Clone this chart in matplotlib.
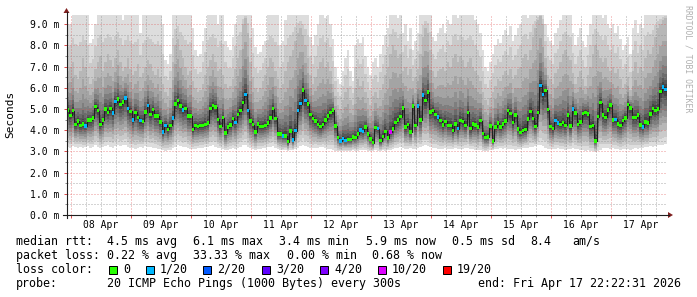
import numpy as np
import matplotlib
matplotlib.use("Agg")
import matplotlib.pyplot as plt
from matplotlib.patches import Rectangle, Polygon
from matplotlib.lines import Line2D
import matplotlib.transforms as mtransforms

W, H = 697, 297
MONO = "DejaVu Sans Mono"

# ---------------- data ----------------
# time in hours relative to 08 Apr 00:00; graph starts Apr 07 22:22:31, 240 hourly steps
start_h = -(1 + 37.5 / 60)

median_ms = [
    4.95, 4.70, 4.92, 4.28, 4.43, 4.22, 4.29, 4.20, 4.47, 4.47,
    4.58, 5.11, 4.92, 4.28, 4.48, 4.99, 4.84, 5.03, 4.80, 5.35,
    5.47, 5.22, 5.33, 5.52, 5.02, 4.89, 4.48, 4.84, 4.61, 4.45,
    4.42, 4.86, 5.17, 4.75, 4.97, 4.67, 4.67, 4.39, 3.92, 4.23,
    4.04, 4.23, 4.58, 5.24, 5.39, 5.14, 4.95, 5.03, 4.67, 4.66,
    4.04, 4.22, 4.17, 4.23, 4.23, 4.28, 4.34, 5.02, 5.17, 5.10,
    4.51, 4.18, 4.59, 3.87, 4.15, 4.25, 4.56, 4.37, 4.75, 4.94,
    5.30, 5.69, 4.94, 4.43, 4.26, 3.92, 4.29, 4.18, 4.18, 4.22,
    4.33, 4.58, 5.02, 4.56, 3.82, 3.81, 3.73, 3.73, 3.46, 3.96,
    3.54, 3.98, 4.92, 5.25, 5.90, 5.39, 5.24, 4.73, 4.55, 4.43,
    4.28, 4.17, 4.28, 4.47, 4.67, 4.84, 4.95, 4.20, 3.65, 3.48,
    3.62, 3.52, 3.56, 3.56, 3.68, 3.65, 3.82, 4.01, 3.95, 4.15,
    3.82, 3.59, 3.41, 4.12, 4.07, 3.51, 3.70, 3.95, 3.63, 3.92,
    4.06, 4.37, 4.47, 4.64, 5.05, 4.14, 4.28, 3.92, 5.14, 4.22,
    5.14, 4.48, 5.65, 5.41, 5.80, 4.86, 4.94, 4.73, 4.62, 4.45,
    4.25, 4.42, 4.22, 4.23, 3.98, 4.29, 4.07, 4.45, 4.42, 4.23,
    4.84, 4.07, 4.29, 4.25, 4.14, 4.45, 3.85, 3.66, 3.68, 4.20,
    3.49, 4.14, 4.33, 4.14, 4.29, 4.43, 4.94, 4.78, 4.37, 4.72,
    4.06, 3.90, 3.98, 4.03, 4.53, 4.89, 4.55, 4.18, 4.83, 6.12,
    5.69, 5.88, 4.97, 4.17, 4.07, 4.45, 4.34, 4.28, 4.37, 4.23,
    4.72, 4.20, 5.00, 4.81, 4.28, 4.39, 4.78, 4.84, 4.76, 4.17,
    4.22, 3.48, 4.64, 5.30, 4.72, 4.61, 4.95, 5.19, 4.48, 4.51,
    4.29, 4.22, 4.45, 4.58, 5.22, 5.05, 4.59, 4.59, 4.72, 4.25,
    4.15, 4.39, 4.34, 4.76, 5.02, 4.94, 4.99, 5.82, 6.04, 5.93,
]

# lost pings (out of 20) for the hours that had loss; all others 0
loss_by_hour = {7: 1, 18: 1, 19: 1, 23: 1, 24: 1, 26: 1, 29: 1, 32: 1, 38: 1, 39: 1,
                42: 1, 46: 1, 67: 1, 71: 1, 72: 1, 86: 1, 90: 1, 91: 1, 92: 1, 93: 1,
                95: 1, 109: 1, 110: 1, 111: 1, 117: 1, 118: 1, 124: 1, 129: 7, 140: 1,
                142: 1, 148: 1, 156: 1, 189: 1, 190: 1, 195: 1, 196: 1, 202: 1, 219: 1,
                230: 1, 238: 1, 239: 1}

# slowest ping per hour (ms, top of smoke)
smoke_top = [
    9.0, 9.0, 9.5, 9.5, 9.5, 9.5, 9.5, 9.5, 9.5, 8.1,
    8.3, 9.0, 9.5, 9.5, 9.5, 9.5, 9.5, 9.5, 9.5, 9.5,
    9.5, 9.5, 9.2, 9.5, 9.5, 9.5, 9.5, 9.5, 9.5, 8.6,
    9.5, 9.5, 9.5, 9.5, 9.5, 9.5, 9.5, 9.5, 9.0, 7.3,
    7.1, 7.6, 9.5, 9.5, 9.5, 9.5, 9.5, 9.5, 9.5, 9.5,
    8.8, 7.8, 7.5, 7.6, 8.2, 8.8, 9.5, 9.5, 9.5, 9.5,
    9.0, 9.5, 9.5, 8.2, 7.9, 7.8, 8.4, 9.0, 9.5, 9.5,
    9.5, 9.5, 9.5, 9.5, 8.8, 7.9, 7.6, 7.7, 8.0, 8.2,
    9.5, 9.5, 9.5, 9.5, 9.5, 8.0, 8.2, 9.2, 9.5, 9.5,
    9.5, 9.5, 9.5, 9.5, 9.5, 9.5, 9.5, 8.4, 8.0, 8.5,
    9.0, 9.5, 9.5, 9.3, 9.5, 9.0, 8.3, 7.0, 6.4, 6.2,
    6.8, 7.4, 7.8, 6.8, 6.3, 8.0, 8.3, 8.1, 8.4, 7.5,
    7.0, 6.6, 7.2, 7.4, 7.0, 7.6, 8.0, 8.5, 8.8, 9.5,
    9.5, 9.5, 9.3, 9.5, 8.6, 9.0, 8.2, 8.8, 7.8, 8.2,
    8.6, 9.5, 9.5, 9.5, 9.5, 9.5, 8.4, 8.2, 8.6, 8.8,
    9.0, 8.6, 9.2, 9.0, 9.5, 9.5, 9.3, 9.5, 9.5, 9.5,
    9.5, 9.5, 9.5, 9.2, 9.0, 8.6, 7.8, 7.0, 6.8, 7.2,
    7.6, 8.0, 8.3, 8.1, 8.5, 8.7, 8.5, 8.9, 8.2, 8.5,
    8.8, 9.0, 9.5, 9.5, 9.3, 9.5, 9.5, 9.5, 9.5, 9.5,
    9.5, 9.0, 8.4, 8.2, 8.0, 8.6, 8.8, 9.2, 9.5, 9.5,
    9.5, 9.5, 8.6, 8.0, 8.4, 8.8, 8.2, 7.9, 8.5, 9.0,
    9.5, 9.5, 9.5, 9.5, 9.3, 9.5, 9.0, 8.8, 9.0, 8.6,
    8.9, 8.3, 7.8, 8.0, 8.4, 7.6, 8.8, 9.2, 8.6, 9.0,
    8.8, 9.5, 9.5, 9.5, 9.5, 9.5, 9.5, 9.5, 9.5, 9.5,
]

# 18th of 20 sorted pings per hour (ms)
smoke_p18 = [
    6.8, 7.0, 7.2, 6.6, 6.4, 6.8, 7.4, 7.0, 6.5, 6.2,
    6.4, 6.9, 7.2, 7.5, 6.8, 7.2, 7.6, 7.3, 7.0, 7.4,
    7.8, 7.2, 6.8, 7.0, 7.4, 6.9, 6.6, 6.8, 7.1, 6.5,
    6.7, 7.0, 7.3, 7.1, 6.8, 6.6, 6.9, 6.5, 6.2, 5.8,
    5.6, 6.0, 7.2, 8.0, 8.3, 7.8, 7.4, 7.0, 6.6, 6.8,
    6.3, 6.0, 5.8, 5.9, 6.2, 6.6, 7.0, 7.3, 7.6, 7.2,
    6.8, 6.9, 6.6, 6.2, 6.0, 6.1, 6.4, 6.9, 7.4, 7.8,
    9.0, 9.3, 8.6, 7.2, 6.5, 6.0, 5.8, 6.0, 6.3, 6.6,
    7.0, 7.4, 7.2, 6.8, 6.4, 6.0, 6.2, 6.8, 7.2, 7.5,
    7.8, 8.2, 8.6, 8.8, 8.5, 8.0, 7.4, 6.6, 6.2, 6.5,
    6.9, 7.2, 7.4, 7.0, 7.2, 6.8, 6.2, 5.6, 5.2, 5.0,
    5.4, 5.8, 6.0, 5.4, 5.2, 6.0, 6.4, 6.1, 6.3, 5.8,
    5.5, 5.2, 5.6, 5.8, 5.5, 5.9, 6.2, 6.6, 7.0, 7.6,
    8.0, 7.8, 7.4, 7.6, 6.8, 7.0, 6.6, 6.9, 6.3, 6.5,
    6.9, 7.6, 8.4, 8.8, 8.6, 7.8, 6.8, 6.5, 6.8, 6.9,
    7.0, 6.8, 7.2, 7.0, 7.4, 7.6, 7.2, 7.5, 7.3, 7.0,
    7.2, 7.4, 7.0, 6.8, 6.6, 6.3, 5.8, 5.4, 5.2, 5.5,
    5.8, 6.1, 6.4, 6.3, 6.6, 6.8, 6.6, 6.9, 6.4, 6.6,
    6.9, 7.0, 7.4, 7.6, 7.3, 7.8, 8.4, 8.8, 9.2, 9.4,
    9.0, 7.4, 6.6, 6.4, 6.2, 6.7, 6.9, 7.2, 7.6, 7.8,
    7.5, 7.3, 6.7, 6.2, 6.5, 6.8, 6.4, 6.1, 6.6, 7.0,
    7.6, 8.0, 7.8, 7.4, 7.2, 7.4, 7.0, 6.8, 7.0, 6.7,
    6.9, 6.4, 6.0, 6.2, 6.5, 5.9, 6.8, 7.2, 6.7, 7.0,
    6.8, 7.4, 7.8, 7.6, 7.9, 8.4, 8.8, 9.0, 9.2, 9.3,
]

# fastest ping per hour (ms, bottom of smoke)
smoke_bottom = [
    3.20, 3.15, 3.25, 3.20, 3.18, 3.22, 3.15, 3.20, 3.25, 3.18,
    3.20, 3.28, 3.22, 3.15, 3.20, 3.25, 3.30, 3.22, 3.18, 3.25,
    3.30, 3.25, 3.28, 3.32, 3.20, 3.15, 3.18, 3.10, 3.15, 3.20,
    3.18, 3.25, 3.22, 3.20, 3.18, 3.15, 3.10, 3.12, 3.05, 3.02,
    3.05, 3.08, 3.15, 3.22, 3.28, 3.25, 3.20, 3.22, 3.15, 3.12,
    3.10, 3.12, 3.15, 3.18, 3.15, 3.20, 3.22, 3.25, 3.28, 3.22,
    3.18, 3.15, 3.12, 3.05, 3.08, 3.10, 3.15, 3.12, 3.18, 3.22,
    3.28, 3.30, 3.20, 3.15, 3.12, 3.05, 3.10, 3.12, 3.15, 3.18,
    3.20, 3.22, 3.25, 3.18, 3.10, 3.08, 3.05, 3.06, 3.00, 3.05,
    3.05, 3.10, 3.18, 3.25, 3.30, 3.25, 3.20, 3.18, 3.15, 3.18,
    3.15, 3.20, 3.22, 3.15, 3.12, 3.10, 3.05, 3.02, 3.00, 3.02,
    3.00, 3.02, 3.00, 3.02, 3.05, 3.02, 3.00, 3.05, 3.08, 3.05,
    3.02, 3.00, 3.00, 3.05, 3.02, 3.00, 3.05, 3.02, 3.05, 3.08,
    3.10, 3.15, 3.18, 3.20, 3.15, 3.12, 3.10, 3.15, 3.10, 3.12,
    3.15, 3.20, 3.25, 3.28, 3.25, 3.20, 3.15, 3.15, 3.12, 3.10,
    3.12, 3.15, 3.12, 3.10, 3.12, 3.15, 3.12, 3.10, 3.12, 3.15,
    3.15, 3.12, 3.10, 3.08, 3.05, 3.08, 3.02, 3.00, 3.02, 3.05,
    3.08, 3.10, 3.12, 3.15, 3.12, 3.15, 3.10, 3.12, 3.10, 3.08,
    3.10, 3.12, 3.15, 3.18, 3.15, 3.20, 3.22, 3.25, 3.28, 3.30,
    3.25, 3.15, 3.10, 3.12, 3.10, 3.12, 3.15, 3.12, 3.10, 3.08,
    3.10, 3.12, 3.15, 3.12, 3.10, 3.08, 3.05, 3.02, 3.05, 3.02,
    3.00, 2.98, 3.02, 3.08, 3.15, 3.18, 3.15, 3.12, 3.15, 3.12,
    3.10, 3.08, 3.10, 3.12, 3.10, 3.08, 3.12, 3.15, 3.12, 3.15,
    3.18, 3.20, 3.22, 3.25, 3.22, 3.25, 3.28, 3.30, 3.32, 3.35,
]

n_hours = len(median_ms)
assert n_hours == 240 and len(smoke_top) == 240 and len(smoke_p18) == 240 and len(smoke_bottom) == 240

y_max = 9.43
y_major = [0, 1, 2, 3, 4, 5, 6, 7, 8, 9]
y_labels = ["0.0 m", "1.0 m", "2.0 m", "3.0 m", "4.0 m", "5.0 m",
            "6.0 m", "7.0 m", "8.0 m", "9.0 m"]
day_labels = ["08 Apr", "09 Apr", "10 Apr", "11 Apr", "12 Apr",
              "13 Apr", "14 Apr", "15 Apr", "16 Apr", "17 Apr"]

loss_keys = [0, 1, 2, 3, 4, 10, 19]
loss_names = ["0", "1/20", "2/20", "3/20", "4/20", "10/20", "19/20"]
loss_colors = ["#26ff00", "#00b8ff", "#0059ff", "#5e00ff", "#7e00ff", "#dd00ff", "#ff0000"]

rtt_stats = ["4.5 ms avg", "6.1 ms max", "3.4 ms min", "5.9 ms now", "0.5 ms sd", "8.4", "am/s"]
loss_stats = ["0.22 % avg", "33.33 % max", "0.00 % min", "0.68 % now"]
probe_text = "20 ICMP Echo Pings (1000 Bytes) every 300s"
end_text = "end: Fri Apr 17 22:22:31 2026"

# ---------------- figure ----------------
fig = plt.figure(figsize=(W / 100, H / 100), dpi=100, facecolor="white")
AX_L, AX_R, AX_T, AX_B = 66.5, 666.5, 15.0, 215.0
ax = fig.add_axes([AX_L / W, 1 - AX_B / H, (AX_R - AX_L) / W, (AX_B - AX_T) / H])
ax.set_facecolor("white")
ax.set_xlim(start_h, start_h + n_hours)
ax.set_ylim(0, y_max)
for s in ax.spines.values():
    s.set_visible(False)

med = np.array(median_ms)
top = np.array(smoke_top)
up = np.array(smoke_p18)
bot = np.array(smoke_bottom)
loss = np.array([loss_by_hour.get(i, 0) for i in range(n_hours)])

x_edges = start_h + np.arange(n_hours + 1)

# 20 sorted pings per hour -> smoke bands (SmokePing style)
lo_frac = [0.0, 0.12, 0.25, 0.38, 0.50, 0.60, 0.70, 0.80, 0.88, 0.95]
hi_frac = [0.03, 0.07, 0.13, 0.21, 0.32, 0.46, 0.68]
pings = [bot + (med - bot) * f for f in lo_frac]
pings += [med + (up - med) * f for f in hi_frac]
pings += [up, up + (top - up) * 0.5, top]

def ext(a):
    return np.append(a, a[-1])

for k in range(10):
    g = (int(190 / 10 * (10 - (k + 1))) + 50) / 255.0
    ax.fill_between(x_edges, ext(pings[k]), ext(pings[19 - k]), step="post",
                    color=(g, g, g), lw=0, antialiased=False, zorder=1)

# grid (over smoke), 1px dotted like rrdtool
grid_col = (0.56, 0.56, 0.56, 0.75)
mgrid_col = (0.87, 0.31, 0.31, 0.60)
dots = (0, (1, 2))
day_x = np.arange(0, start_h + n_hours, 24)
six_x = [h for h in np.arange(0, start_h + n_hours, 6) if h % 24 != 0]
half_y = np.arange(0.5, y_max, 1.0)
for xv in six_x:
    ax.axvline(xv, color=grid_col, ls=dots, lw=0.72, zorder=3)
for xv in day_x:
    ax.axvline(xv, color=mgrid_col, ls=dots, lw=0.72, zorder=3)
for yv in half_y:
    ax.axhline(yv, color=grid_col, ls=dots, lw=0.72, zorder=3)
for yv in y_major[1:]:
    ax.axhline(yv, color=mgrid_col, ls=dots, lw=0.72, zorder=3)

# median line and loss-coloured markers
ax.step(x_edges, ext(med), where="post", color="#202020", lw=0.75, zorder=4)

def loss_color(l):
    for key, c in zip(loss_keys, loss_colors):
        if l <= key:
            return c
    return loss_colors[-1]

sw = 1.7 * y_max / (AX_B - AX_T)
ax.bar(x_edges[:-1], 2 * sw, bottom=med - sw, width=1.0, align="edge",
       color=[loss_color(l) for l in loss], lw=0, zorder=5)

# ticks
ax.set_yticks(y_major)
ax.set_yticklabels(y_labels, family=MONO, fontsize=7)
ax.set_yticks(half_y, minor=True)
ax.set_xticks(day_x)
ax.set_xticklabels([])
ax.set_xticks(six_x, minor=True)
ax.tick_params(axis="y", which="major", length=2.2, width=0.72, color=mgrid_col[:3], pad=2.9)
ax.tick_params(axis="y", which="minor", length=1.5, width=0.72, color=grid_col[:3])
ax.tick_params(axis="x", which="major", length=2.2, width=0.72, color=mgrid_col[:3])
ax.tick_params(axis="x", which="minor", length=1.5, width=0.72, color=grid_col[:3])

blend = mtransforms.blended_transform_factory(ax.transData, ax.transAxes)
for d, lab in enumerate(day_labels):
    ax.text(12 + 24 * d, -9.5 / 200, lab, transform=blend, ha="center", va="center",
            family=MONO, fontsize=7, color="black")

# axes lines + arrows (figure pixel coords)
def P(x, y):
    return x / W, 1 - y / H

axis_col = (0.12, 0.12, 0.12)
arrow_col = (0.5, 0.12, 0.12)
xa, ya = P(63, AX_B), P(669, AX_B)
fig.add_artist(Line2D([xa[0], ya[0]], [xa[1], ya[1]], color=axis_col, lw=0.8))
yb, yt = P(AX_L, 218), P(AX_L, 12)
fig.add_artist(Line2D([yb[0], yt[0]], [yb[1], yt[1]], color=axis_col, lw=0.8))
fig.add_artist(Polygon([P(668, AX_B - 3), P(668, AX_B + 3), P(673, AX_B)], closed=True,
                       transform=fig.transFigure, color=arrow_col, lw=0))
fig.add_artist(Polygon([P(AX_L - 3, 13), P(AX_L + 3, 13), P(AX_L, 8)], closed=True,
                       transform=fig.transFigure, color=arrow_col, lw=0))

# y label + watermark
fig.text(*P(10.7, 114), "Seconds", rotation=90, ha="center", va="center",
         family=MONO, fontsize=8, color="black")
fig.text(*P(688, 59), "RRDTOOL / TOBI OETIKER", rotation=-90, ha="center", va="center",
         family=MONO, fontsize=5.9, color="#b0b0b0")

# legend
LFS = 8.4
def ltext(x, y, s):
    fig.text(*P(x, y), s, ha="left", va="baseline", family=MONO, fontsize=LFS, color="black")

row_y = [245.0, 259.0, 272.8, 286.7]
ltext(16, row_y[0], "median rtt:")
for s, x in zip(rtt_stats, [107.3, 193.3, 279.3, 366.0, 451.7, 530.0, 572.3]):
    ltext(x, row_y[0], s)
ltext(16, row_y[1], "packet loss:")
for s, x in zip(loss_stats, [107.3, 193.3, 286.7, 372.3]):
    ltext(x, row_y[1], s)
ltext(16, row_y[2], "loss color:")
for name, c, x in zip(loss_names, loss_colors, [108.7, 145.7, 203.3, 261.7, 320.0, 377.7, 442.7]):
    x0, y0 = P(x, 273.6)
    fig.add_artist(Rectangle((x0, y0), 8.0 / W, 8.0 / H, transform=fig.transFigure,
                             facecolor=c, edgecolor="black", lw=0.72))
    ltext(x + 14.3, row_y[2], name)
ltext(16, row_y[3], "probe:")
ltext(107.3, row_y[3], probe_text)
ltext(478.3, row_y[3], end_text)

fig.savefig("out.png", dpi=100, facecolor="white")
